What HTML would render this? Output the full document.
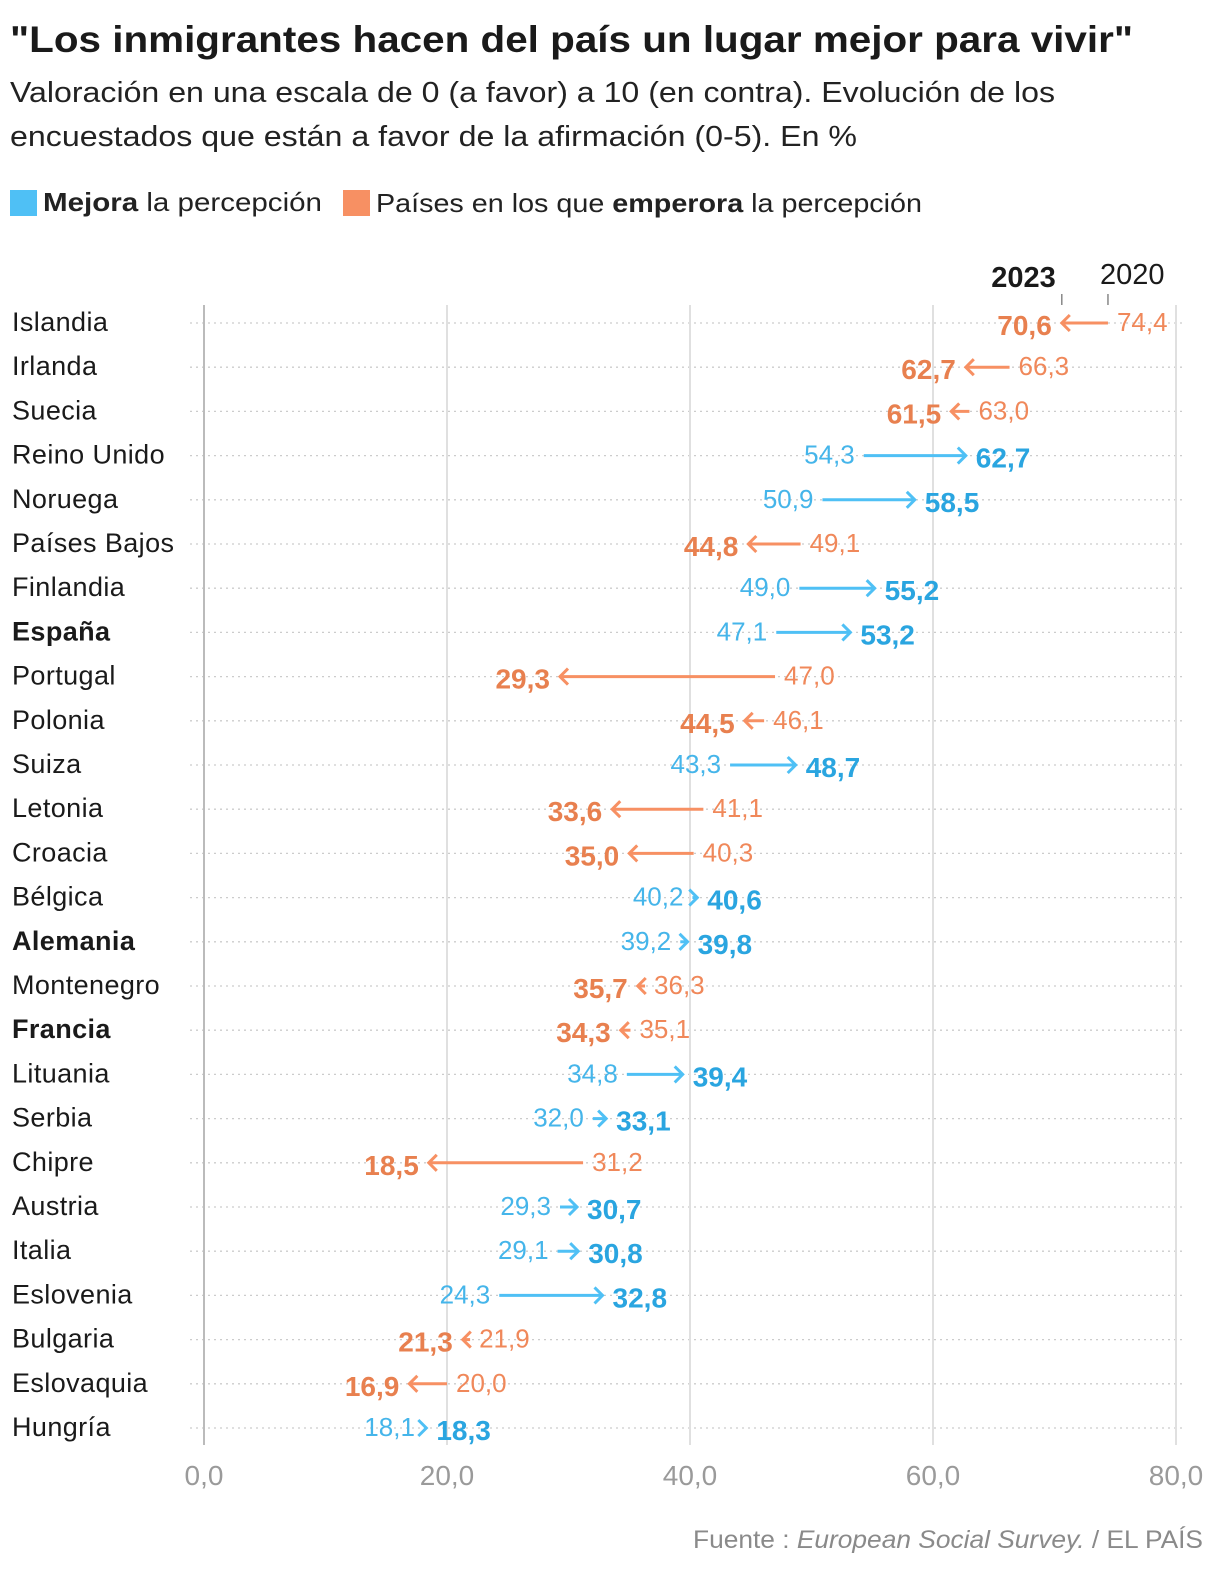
<!DOCTYPE html>
<html><head><meta charset="utf-8"><style>
body{margin:0;background:#fff;font-family:"Liberation Sans",sans-serif;}
svg text{font-family:"Liberation Sans",sans-serif;}
</style></head><body>
<svg id="c" width="1220" height="1578" viewBox="0 0 1220 1578">
<text x="10" y="52" font-size="37" font-weight="bold" fill="#1a1a1a" textLength="1123" lengthAdjust="spacingAndGlyphs">"Los inmigrantes hacen del país un lugar mejor para vivir"</text>
<text x="10" y="102" font-size="29" fill="#222" textLength="1045" lengthAdjust="spacingAndGlyphs">Valoración en una escala de 0 (a favor) a 10 (en contra). Evolución de los</text>
<text x="10" y="146" font-size="29" fill="#222" textLength="847" lengthAdjust="spacingAndGlyphs">encuestados que están a favor de la afirmación (0-5). En %</text>
<rect x="10" y="190" width="27" height="26" fill="#4fc0f5"/>
<text x="43" y="211" font-size="26" fill="#222" textLength="279" lengthAdjust="spacingAndGlyphs"><tspan font-weight="bold">Mejora</tspan> la percepción</text>
<rect x="343" y="190" width="27" height="26" fill="#f79063"/>
<text x="376" y="212" font-size="26" fill="#222" textLength="546" lengthAdjust="spacingAndGlyphs">Países en los que <tspan font-weight="bold">emperora</tspan> la percepción</text>
<g id="grid"></g>
<g id="rows"></g>
<text x="1203" y="1548" font-size="25" fill="#8a8a8a" text-anchor="end" textLength="510" lengthAdjust="spacingAndGlyphs">Fuente : <tspan font-style="italic">European Social Survey.</tspan> / EL PAÍS</text>
</svg>
<script>
const countries=["Islandia","Irlanda","Suecia","Reino Unido","Noruega","Países Bajos","Finlandia","España","Portugal","Polonia","Suiza","Letonia","Croacia","Bélgica","Alemania","Montenegro","Francia","Lituania","Serbia","Chipre","Austria","Italia","Eslovenia","Bulgaria","Eslovaquia","Hungría"];
const v2020=[74.4,66.3,63.0,54.3,50.9,49.1,49.0,47.1,47.0,46.1,43.3,41.1,40.3,40.2,39.2,36.3,35.1,34.8,32.0,31.2,29.3,29.1,24.3,21.9,20.0,18.1];
const v2023=[70.6,62.7,61.5,62.7,58.5,44.8,55.2,53.2,29.3,44.5,48.7,33.6,35.0,40.6,39.8,35.7,34.3,39.4,33.1,18.5,30.7,30.8,32.8,21.3,16.9,18.3];
const boldCountries=["España","Alemania","Francia"];
const ticks=[0,20,40,60,80];
const tickLabels=["0,0","20,0","40,0","60,0","80,0"];
const NS="http://www.w3.org/2000/svg";
const X=v=>204+v*12.15, Y=i=>323+i*44.2;
function mk(tag,attrs,parent,txt){const e=document.createElementNS(NS,tag);for(const k in attrs)e.setAttribute(k,attrs[k]);if(txt!==undefined)e.textContent=txt;parent.appendChild(e);return e;}
const fmt=v=>v.toFixed(1).replace('.',',');
const grid=document.getElementById('grid'),rows=document.getElementById('rows');
countries.forEach((c,i)=>{
  const l=mk('line',{x1:190,x2:1182,y1:Y(i),y2:Y(i),stroke:'#ccc','stroke-width':1.3,'stroke-dasharray':'2 4'},grid);
  
  
});
ticks.forEach((t,k)=>{
  const l=mk('line',{x1:X(t),x2:X(t),y1:305,y2:1445,stroke:t===0?'#bbb':'#e0e0e0','stroke-width':2},grid);
  
  
  const tx=mk('text',{x:X(t),y:1485,'font-size':28,fill:'#9a9a9a','text-anchor':'middle'},grid,tickLabels[k]);
  
  
});
const h1=mk('text',{x:X(v2023[0])-6,y:287,'font-size':29,'font-weight':'bold',fill:'#1a1a1a','text-anchor':'end'},grid,'2023');


const h2=mk('text',{x:X(v2020[0])-8,y:284,'font-size':29,fill:'#1a1a1a'},grid,'2020');


[v2023[0],v2020[0]].forEach(v=>{const t=mk('line',{x1:X(v),x2:X(v),y1:294,y2:305,stroke:'#888','stroke-width':1.5},grid);
  
  });
countries.forEach((c,i)=>{
  const y=Y(i),a=v2020[i],b=v2023[i],up=b>=a;
  const g=mk('g',{},rows);
  
  
  const bold=boldCountries.includes(c);
  const lab=mk('text',{x:12,y:y+8,'font-size':27,'letter-spacing':0.4,fill:'#1a1a1a','font-weight':bold?'bold':'normal'},g,c);
  
  
  const col=up?'#4fc0f5':'#f79063', c1=up?'#45b5ea':'#f0885a', c2=up?'#2aa5e0':'#e8804f';
  const x1=X(a),x2=X(b),d=up?1:-1;
  const ln=mk('line',{x1:x1,x2:x2-d*1.5,y1:y,y2:y,stroke:col,'stroke-width':3},g);
  
  
  const hd=mk('path',{d:`M${x2-d*8},${y-8} L${x2},${y} L${x2-d*8},${y+8}`,fill:'none',stroke:col,'stroke-width':3},g);
  
  
  const t1=mk('text',{x:x1-d*9,y:y+8,'font-size':26,fill:c1,'text-anchor':up?'end':'start'},g,fmt(a));
  
  
  const t2=mk('text',{x:x2+d*10,y:y+12,'font-size':28,'font-weight':'bold',fill:c2,'text-anchor':up?'start':'end'},g,fmt(b));
  
  
});
</script>
</body></html>
